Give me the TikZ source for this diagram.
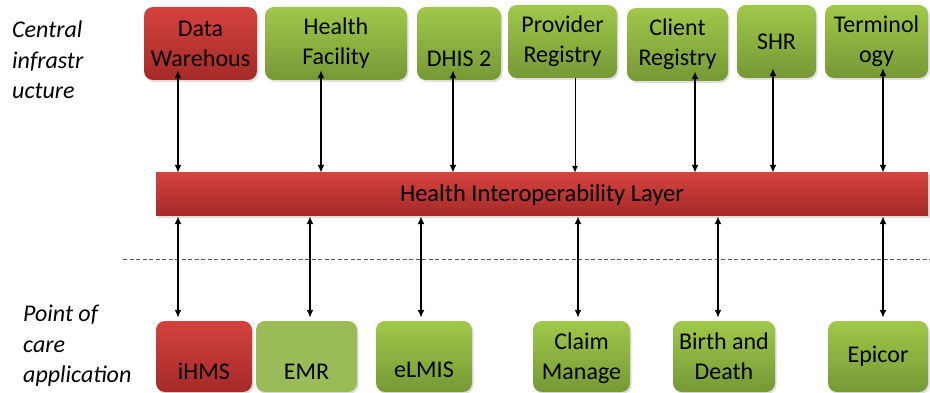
\documentclass[tikz,border=0pt]{standalone}
\usepackage{fontspec}
\setmainfont{Carlito}
\usetikzlibrary{calc,shadows,arrows.meta}

\definecolor{redtop}{RGB}{212,66,63}
\definecolor{redbot}{RGB}{164,42,40}
\definecolor{greentop}{RGB}{160,200,74}
\definecolor{greenbot}{RGB}{118,152,54}
\definecolor{palegreen}{RGB}{155,187,89}

\tikzset{
  sysbox/.style={rounded corners=9pt, inner sep=0pt, align=center,
    font=\fontsize{24}{30}\selectfont,
    drop shadow={opacity=0.25, shadow xshift=1.5pt, shadow yshift=-2pt}},
  redbox/.style={sysbox, top color=redtop, bottom color=redbot},
  greenbox/.style={sysbox, top color=greentop, bottom color=greenbot},
  palebox/.style={sysbox, fill=palegreen},
  layerbox/.style={redbox, rounded corners=0pt, font=\fontsize{24.5}{30}\selectfont},
  sidelabel/.style={anchor=west, inner sep=0pt, align=left,
    font=\fontsize{24}{30.5}\selectfont\itshape},
  link/.style={{Latex[length=8pt,width=7pt]}-{Latex[length=8pt,width=7pt]}, line width=1.6pt},
  oneway/.style={-{Latex[length=7pt,width=6pt]}, line width=1pt},
}

\begin{document}
\begin{tikzpicture}[x=1pt,y=-1pt]
  \useasboundingbox (0,0) rectangle (930,393);

  % central infrastructure
  \node[redbox, minimum width=113pt, minimum height=73pt] (dw) at (200.5,43.5) {Data\\Warehous};
  \node[greenbox, minimum width=142pt, minimum height=73pt] (hf) at (336,43.5) {Health\\Facility};
  \node[greenbox, minimum width=84pt, minimum height=73pt] (dhis) at (459,43.5) {\phantom{D}\\DHIS 2};
  \node[greenbox, minimum width=109pt, minimum height=73pt] (prov) at (562.5,41.5) {Provider\\Registry};
  \node[greenbox, minimum width=101pt, minimum height=73pt] (cli) at (677.5,44.5) {Client\\Registry};
  \node[greenbox, minimum width=79pt, minimum height=73pt] (shr) at (776.5,41.5) {SHR};
  \node[greenbox, minimum width=103pt, minimum height=73pt] (term) at (876.5,41.5) {Terminol\\ogy};

  \node[layerbox, minimum width=772pt, minimum height=43pt] (bar) at (542,194.5) {Health Interoperability Layer};

  % point of care
  \node[redbox, minimum width=96pt, minimum height=71pt] (ihms) at (204,356.5) {\phantom{I}\\iHMS};
  \node[palebox, minimum width=101pt, minimum height=71pt] (emr) at (306.5,356.5) {\phantom{E}\\EMR};
  \node[greenbox, minimum width=96pt, minimum height=71pt] (elmis) at (424,356.5) {\phantom{e}\\eLMIS};
  \node[greenbox, minimum width=97pt, minimum height=71pt, inner ysep=-30pt] (claim) at (581.5,356.5) {\phantom{C}\\Claim\\Manage\\ment};
  \node[greenbox, minimum width=102pt, minimum height=71pt] (birth) at (724,356.5) {Birth and\\Death};
  \node[greenbox, minimum width=100pt, minimum height=71pt] (epic) at (878,356.5) {Epicor};

  \node[sidelabel] (central) at (12,60) {Central\\infrastr\\ucture};
  \node[sidelabel] (poc) at (23,346) {Point of\\care\\application};

  \draw[gray!70!black, line width=0.7pt, dash pattern=on 4pt off 2.5pt] (123,259) -- (930,259);

  \foreach \n/\dx in {dw/-22.5, hf/-15, dhis/-6, cli/17.5, shr/-3.5, term/6.5} {
    \coordinate (\n-a) at ($(\n.south)+(\dx,-10)$);
    \draw[link] (\n-a) -- (\n-a |- bar.north);
  }
  \coordinate (prov-a) at ($(prov.south)+(12.5,0)$);
  \draw[oneway] (prov-a) -- (prov-a |- bar.north);

  \foreach \n/\dx in {ihms/-26, emr/3.5, elmis/-3, claim/-3.5, birth/-6, epic/5} {
    \coordinate (\n-a) at ($(\n.north)+(\dx,-3)$);
    \draw[link] (\n-a |- bar.south) -- (\n-a);
  }
\end{tikzpicture}
\end{document}
